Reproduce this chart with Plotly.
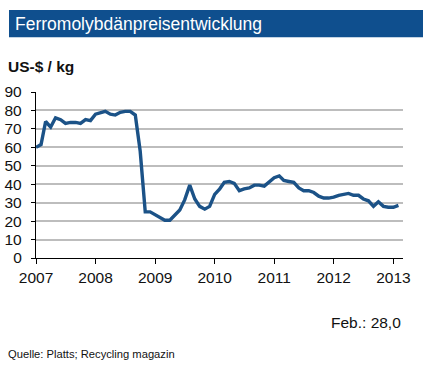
import plotly.graph_objects as go
import pandas as pd

# Monthly Ferromolybdän price, US-$/kg, Jan 2007 - Feb 2013
dates = pd.date_range("2007-01-01", "2013-02-01", freq="MS").strftime("%Y-%m-%d").tolist()
prices = [
    # 2007
    60, 61.5, 74, 71, 76, 75, 73, 73.5, 73.5, 73, 75, 74.5,
    # 2008
    78, 79, 79.5, 78, 77.5, 79, 79.5, 79.5, 77.5, 58, 25, 25,
    # 2009
    23.5, 22, 20.5, 20.5, 23.5, 26, 31.5, 39.5, 32, 28, 26.5, 28,
    # 2010
    34.5, 37.5, 41, 41.5, 40.5, 36.5, 37.5, 38, 39.5, 39.5, 39, 41,
    # 2011
    43.5, 44.5, 42, 41.5, 41, 38, 36.5, 36.5, 35.5, 33.5, 32.5, 32.5,
    # 2012
    33, 34, 34.5, 35, 34, 34, 32, 31, 28, 30.5, 28, 27.5,
    # 2013
    27.5, 28.5,
]

year_ticks = ["2007-01-01", "2008-01-01", "2009-01-01", "2010-01-01",
              "2011-01-01", "2012-01-01", "2013-01-01"]
year_labels = ["2007", "2008", "2009", "2010", "2011", "2012", "2013"]
y_ticks = [0, 10, 20, 30, 40, 50, 60, 70, 80, 90]

title_text = "Ferromolybdänpreisentwicklung"
unit_text = "US-$ / kg"
last_text = "Feb.: 28,0"
source_text = "Quelle: Platts; Recycling magazin"

W, H = 432, 370
ML, MR, MT, MB = 36, 29, 92, 112
PW = W - ML - MR
PH = H - MT - MB
FONT = "Liberation Sans, Arial, sans-serif"


def px_x(x):
    return (x - ML) / PW


def px_y(y):
    return (H - MB - y) / PH


fig = go.Figure()
fig.add_trace(go.Scatter(
    x=dates, y=prices, mode="lines",
    line=dict(color="#1B5287", width=3.4, shape="linear"),
    hoverinfo="x+y", showlegend=False,
))

fig.update_layout(
    width=W, height=H,
    margin=dict(l=ML, r=MR, t=MT, b=MB, pad=0, autoexpand=False),
    paper_bgcolor="white", plot_bgcolor="white",
    font=dict(family=FONT, color="#111111"),
    xaxis=dict(
        type="date",
        range=["2007-01-01", "2013-03-01"],
        tickvals=year_ticks, ticktext=year_labels,
        showgrid=False, zeroline=False, automargin=False,
        showline=True, linecolor="#000000", linewidth=1.3,
        ticks="outside", ticklen=5, tickwidth=1.3, tickcolor="#000000",
        tickfont=dict(size=15.5, family=FONT, color="#111111"),
    ),
    yaxis=dict(
        range=[0, 90],
        tickvals=y_ticks, automargin=False,
        showgrid=True, gridcolor="#BDBDBD", gridwidth=2,
        zeroline=False,
        showline=True, linecolor="#000000", linewidth=1.3,
        ticks="outside", ticklen=4, tickwidth=1.3, tickcolor="#000000",
        ticklabelstandoff=6,
        tickfont=dict(size=15.5, family=FONT, color="#111111"),
    ),
    shapes=[dict(
        type="rect", xref="paper", yref="paper",
        x0=px_x(9), x1=px_x(423),
        y0=px_y(37.3), y1=px_y(10),
        fillcolor="#0F4F8E", line=dict(width=0), layer="above",
    )],
)

fig.add_annotation(text=title_text, xref="paper", yref="paper",
                   x=px_x(13), y=px_y(23.5), xanchor="left", yanchor="middle",
                   showarrow=False, font=dict(size=17.5, color="white", family=FONT))
fig.add_annotation(text="<b>" + unit_text + "</b>", xref="paper", yref="paper",
                   x=px_x(6), y=px_y(66), xanchor="left", yanchor="middle",
                   showarrow=False, font=dict(size=15.5, color="#111111", family=FONT))
fig.add_annotation(text=last_text, xref="paper", yref="paper",
                   x=px_x(403), y=px_y(322), xanchor="right", yanchor="middle",
                   showarrow=False, font=dict(size=15.5, color="#111111", family=FONT))
fig.add_annotation(text=source_text, xref="paper", yref="paper",
                   x=px_x(6), y=px_y(354), xanchor="left", yanchor="middle",
                   showarrow=False, font=dict(size=11.2, color="#111111", family=FONT))

fig.write_html(
    "out.html",
    config={"displayModeBar": False},
    post_script="document.body.style.margin='0';document.body.style.padding='0';"
                "document.documentElement.style.margin='0';",
)
